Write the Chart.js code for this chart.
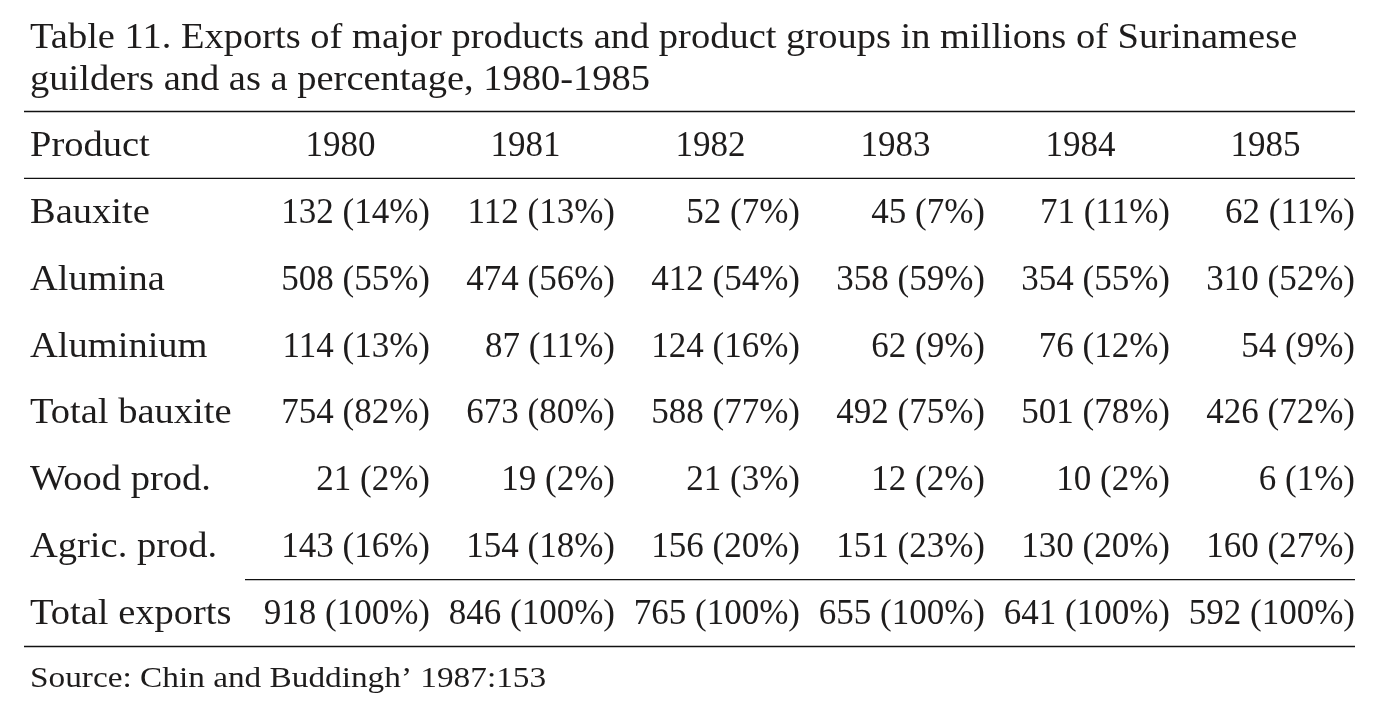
<!DOCTYPE html>
<html>
<head>
<meta charset="utf-8">
<script src="https://cdn.jsdelivr.net/npm/chart.js@4.4.1/dist/chart.umd.min.js"></script>
<style>
    html, body { margin: 0; padding: 0; background: #fff; }
    #wrap { width: 1377px; height: 711px; position: relative; }
</style>
</head>
<body>
<div id="wrap"><canvas id="exportsTable"></canvas></div>
<script>
// Table data
const titleLines = [
    'Table 11. Exports of major products and product groups in millions of Surinamese',
    'guilders and as a percentage, 1980-1985'
];
const sourceNote = 'Source: Chin and Buddingh\u2019 1987:153';
const headerLabel = 'Product';
const years = ['1980', '1981', '1982', '1983', '1984', '1985'];
const products = ['Bauxite', 'Alumina', 'Aluminium', 'Total bauxite', 'Wood prod.', 'Agric. prod.', 'Total exports'];

const bauxite      = [132, 112, 52, 45, 71, 62];
const alumina      = [508, 474, 412, 358, 354, 310];
const aluminium    = [114, 87, 124, 62, 76, 54];
const totalBauxite = [754, 673, 588, 492, 501, 426];
const woodProd     = [21, 19, 21, 12, 10, 6];
const agricProd    = [143, 154, 156, 151, 130, 160];
const totalExports = [918, 846, 765, 655, 641, 592];

const bauxiteShare      = [14, 13, 7, 7, 11, 11];
const aluminaShare      = [55, 56, 54, 59, 55, 52];
const aluminiumShare    = [13, 11, 16, 9, 12, 9];
const totalBauxiteShare = [82, 80, 77, 75, 78, 72];
const woodProdShare     = [2, 2, 3, 2, 2, 1];
const agricProdShare    = [16, 18, 20, 23, 20, 27];
const totalExportsShare = [100, 100, 100, 100, 100, 100];

const rowValues = [bauxite, alumina, aluminium, totalBauxite, woodProd, agricProd, totalExports];
const rowShares = [bauxiteShare, aluminaShare, aluminiumShare, totalBauxiteShare, woodProdShare, agricProdShare, totalExportsShare];

const FONT = '"Liberation Serif", "Times New Roman", serif';
const INK = '#1e1c1c';

// one scatter dataset per year column, one point per row (header row included)
const rowLabels = [headerLabel].concat(products);
const datasets = years.map((yr, col) => ({
    label: yr,
    data: rowLabels.map(r => ({ x: yr, y: r })),
    pointRadius: 0,
    pointHoverRadius: 0
}));

// the original face is wider than Times, so words get a slight horizontal stretch
function fillWide(ctx, text, x, y, sx) {
    ctx.save();
    ctx.translate(x, y);
    ctx.scale(sx, 1);
    ctx.fillText(text, 0, 0);
    ctx.restore();
}

const tablePlugin = {
    id: 'tableText',
    afterDatasetsDraw(chart) {
        const ctx = chart.ctx;
        const area = chart.chartArea;
        const xs = chart.scales.x;
        const ys = chart.scales.y;
        const colStep = xs.getPixelForValue(1) - xs.getPixelForValue(0);
        const rowStep = ys.getPixelForValue(1) - ys.getPixelForValue(0);
        const textLeft = 30;
        const ruleLeft = 24;

        ctx.save();
        ctx.fillStyle = INK;
        ctx.textBaseline = 'alphabetic';
        ctx.textAlign = 'left';

        // title
        ctx.font = '35px ' + FONT;
        titleLines.forEach((line, i) => {
            fillWide(ctx, line, textLeft, 48 + i * 42, 1.1);
        });

        // row labels
        rowLabels.forEach((lab, i) => {
            fillWide(ctx, lab, textLeft, ys.getPixelForValue(i) + 11, 1.1);
        });

        // cells
        chart.data.datasets.forEach((ds, col) => {
            const meta = chart.getDatasetMeta(col);
            meta.data.forEach((pt, row) => {
                if (row === 0) {
                    ctx.textAlign = 'center';
                    ctx.fillText(ds.label, pt.x + 3, pt.y + 11);
                } else {
                    const v = rowValues[row - 1][col];
                    const s = rowShares[row - 1][col];
                    ctx.textAlign = 'right';
                    ctx.fillText(`${v} (${s}%)`, pt.x + colStep / 2, pt.y + 11);
                }
            });
        });

        // rules
        ctx.strokeStyle = '#111';
        ctx.lineWidth = 1.3;
        const rule = (y, x0) => {
            ctx.beginPath();
            ctx.moveTo(x0, y);
            ctx.lineTo(area.right, y);
            ctx.stroke();
        };
        rule(area.top, ruleLeft);
        rule(ys.getPixelForValue(0) + rowStep / 2, ruleLeft);
        rule(ys.getPixelForValue(rowLabels.length - 1) - rowStep / 2, area.left);
        rule(area.bottom, ruleLeft);

        // source
        ctx.font = '30px ' + FONT;
        ctx.textAlign = 'left';
        fillWide(ctx, sourceNote, textLeft, 687, 1.11);
        ctx.restore();
    }
};

new Chart(document.getElementById('exportsTable'), {
    type: 'scatter',
    data: { datasets: datasets },
    options: {
        responsive: true,
        maintainAspectRatio: false,
        animation: false,
        events: [],
        layout: { padding: { left: 245, right: 22, top: 111.5, bottom: 64.5 } },
        plugins: {
            legend: { display: false },
            tooltip: { enabled: false },
            title: { display: false }
        },
        scales: {
            x: { type: 'category', labels: years, offset: true, display: false },
            y: { type: 'category', labels: rowLabels, offset: true, display: false }
        }
    },
    plugins: [tablePlugin]
});
</script>
</body>
</html>
